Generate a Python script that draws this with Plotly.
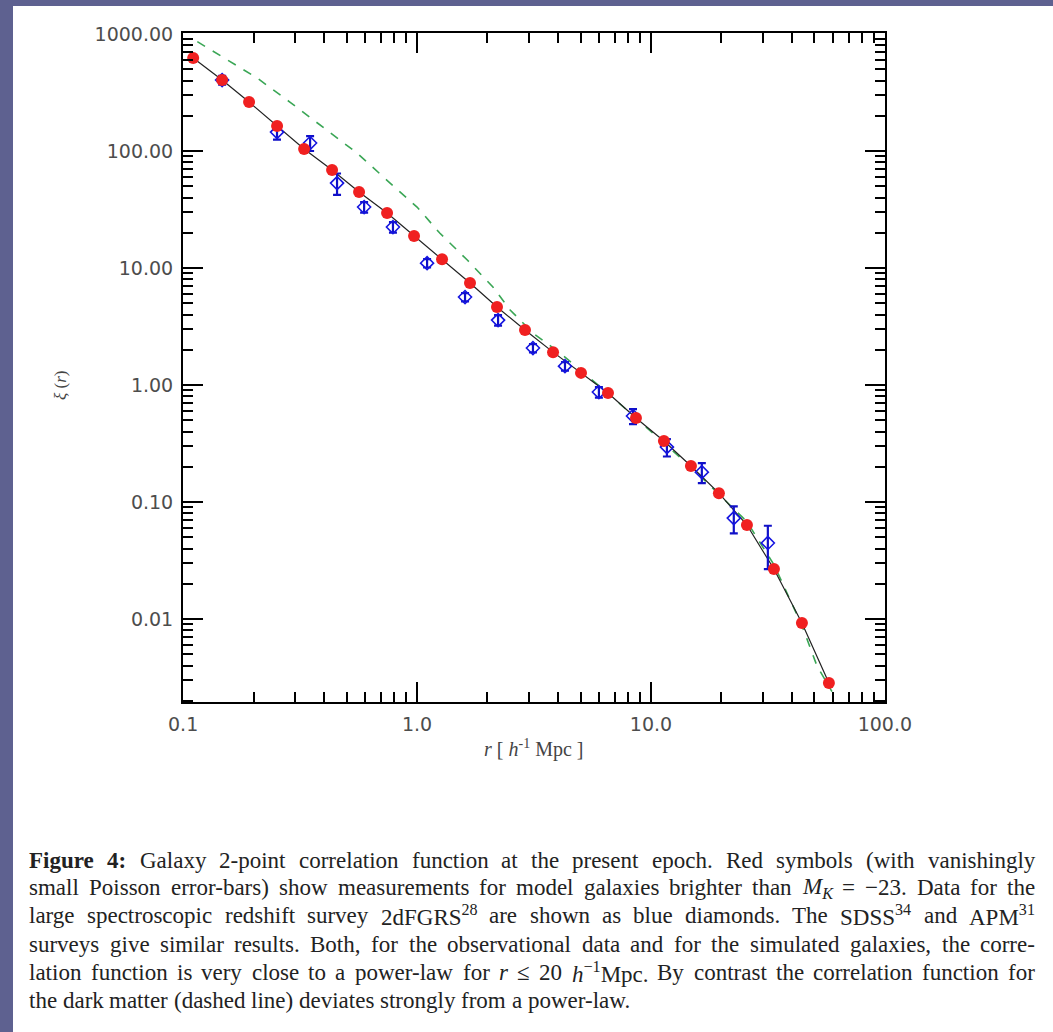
import re
import plotly.graph_objects as go

# ---------------- data ----------------
# Model galaxies (red symbols, solid black line through them)
model_r = [0.1104, 0.1468, 0.1914, 0.2522, 0.3290, 0.4333, 0.5651, 0.7446, 0.9709,
           1.279, 1.684, 2.197, 2.894, 3.814, 5.023, 6.551, 8.628, 11.36, 14.82,
           19.52, 25.72, 33.55, 44.19, 57.64]
model_xi = [623.6, 404.4, 262.3, 163.6, 104.0, 68.8, 44.6, 29.5, 18.8,
            11.9, 7.44, 4.64, 2.95, 1.91, 1.27, 0.854, 0.522, 0.332, 0.203,
            0.119, 0.0636, 0.0268, 0.00924, 0.00284]

# Dark matter (dashed green line)
dm_r = [0.115, 0.147, 0.207, 0.286, 0.396, 0.554, 0.767, 1.0, 1.25, 1.64, 2.11,
        2.50, 3.13, 4.08, 6.55, 8.63, 14.8, 25.7, 33.6, 44.2, 51.2, 59.4]
dm_xi = [860, 636, 421, 262, 160, 96, 53.2, 33.2, 19.9, 11.7, 6.88,
         4.38, 2.78, 1.88, 0.85, 0.52, 0.20, 0.068, 0.029, 0.0088, 0.0040, 0.0024]

# 2dFGRS (blue diamonds with error bars)
obs_r = [0.1468, 0.252, 0.349, 0.455, 0.594, 0.789, 1.104, 1.604, 2.22, 3.13,
         4.29, 5.99, 8.38, 11.7, 16.5, 22.6, 31.6]
obs_xi = [404, 145, 117, 53.2, 33.2, 22.4, 11.0, 5.65, 3.59, 2.07,
          1.45, 0.871, 0.543, 0.295, 0.180, 0.0729, 0.0447]
obs_err = [35, 20, 17, 11, 3.4, 2.3, 0.9, 0.46, 0.37, 0.17,
           0.12, 0.09, 0.08, 0.05, 0.035, 0.019, 0.018]

x_tick_format = ".1f"
y_tick_format = ".2f"

caption_lines = [
    "<b>Figure</b> <b>4:</b> Galaxy 2-point correlation function at the present epoch. Red symbols (with vanishingly",
    "small Poisson error-bars) show measurements for model galaxies brighter than <i>M</i><sub><i>K</i></sub> = −23. Data for the",
    "large spectroscopic redshift survey 2dFGRS<sup>28</sup> are shown as blue diamonds. The SDSS<sup>34</sup> and APM<sup>31</sup>",
    "surveys give similar results. Both, for the observational data and for the simulated galaxies, the corre-",
    "lation function is very close to a power-law for <i>r</i> ≤ 20 <i>h</i><sup>−1</sup>Mpc. By contrast the correlation function for",
    "the dark matter (dashed line) deviates strongly from a power-law.",
]

# ---------------- layout geometry (pixels) ----------------
W, H = 1053, 1032
L, R, T, B = 183, 885, 33, 702


def px(xp):
    return (xp - L) / (R - L)


def py(yp):
    return (B - yp) / (B - T)


# Times / Liberation Serif advance widths (per 1000 em) for caption layout
_REG = {' ': 250, '!': 333, '(': 333, ')': 333, ',': 250, '-': 333, '.': 250, ':': 278,
        '=': 564, '−': 564, '≤': 549,
        'A': 722, 'B': 667, 'C': 667, 'D': 722, 'E': 611, 'F': 556, 'G': 722, 'H': 722,
        'I': 333, 'J': 389, 'K': 722, 'L': 611, 'M': 889, 'N': 722, 'O': 722, 'P': 556,
        'Q': 722, 'R': 667, 'S': 556, 'T': 611, 'U': 722, 'V': 722, 'W': 944, 'X': 722,
        'Y': 722, 'Z': 611,
        'a': 444, 'b': 500, 'c': 444, 'd': 500, 'e': 444, 'f': 333, 'g': 500, 'h': 500,
        'i': 278, 'j': 278, 'k': 500, 'l': 278, 'm': 778, 'n': 500, 'o': 500, 'p': 500,
        'q': 500, 'r': 333, 's': 389, 't': 278, 'u': 500, 'v': 500, 'w': 722, 'x': 500,
        'y': 500, 'z': 444}
for _d in "0123456789":
    _REG[_d] = 500
_BOLD = {'F': 611, 'i': 278, 'g': 500, 'u': 556, 'r': 444, 'e': 444, '4': 500, ':': 333}
_ITAL = {'M': 833, 'K': 667, 'r': 389, 'h': 500}


def text_width(html, size):
    bold = ital = small = False
    w = 0.0
    for tok in re.split(r"(<[^>]+>)", html):
        if tok.startswith("<"):
            tag = tok.strip("<>/")
            on = not tok.startswith("</")
            if tag == "b":
                bold = on
            elif tag == "i":
                ital = on
            elif tag in ("sub", "sup"):
                small = on
            continue
        for ch in tok:
            tbl = _BOLD if bold else (_ITAL if ital else _REG)
            cw = tbl.get(ch, _REG.get(ch, 500))
            w += cw / 1000.0 * size * (0.7 if small else 1.0)
    return w


fig = go.Figure()

fig.add_trace(go.Scatter(
    x=dm_r, y=dm_xi, mode="lines",
    line=dict(color="#3aa655", width=1.6, dash="dash"),
    hoverinfo="skip", showlegend=False))

fig.add_trace(go.Scatter(
    x=model_r, y=model_xi, mode="lines",
    line=dict(color="#222222", width=1.2),
    showlegend=False))

fig.add_trace(go.Scatter(
    x=obs_r, y=obs_xi, mode="markers",
    marker=dict(symbol="diamond-open", size=10, color="#1515e0",
                line=dict(width=1.6, color="#1515e0")),
    error_y=dict(type="data", array=obs_err, visible=True,
                 color="#1010c8", thickness=2.2, width=4),
    showlegend=False))

fig.add_trace(go.Scatter(
    x=model_r, y=model_xi, mode="markers",
    marker=dict(symbol="circle", size=12, color="#f02020",
                line=dict(width=0)),
    showlegend=False))

axis_common = dict(
    type="log", showgrid=False, zeroline=False,
    showline=True, linecolor="black", linewidth=2, mirror="ticks",
    ticks="inside", ticklen=20, tickwidth=2, tickcolor="black",
    dtick=1,
    tickfont=dict(family="DejaVu Sans, Arial, sans-serif", size=19, color="#4d4d4d"),
    minor=dict(ticks="inside", ticklen=10, tickwidth=2, tickcolor="black",
               dtick="D1", showgrid=False),
)

fig.update_xaxes(**axis_common, range=[-1.0005, 2.0005], tickformat=x_tick_format,
                 ticklabelstandoff=4)
fig.update_yaxes(**axis_common, range=[-2.709, 3.0085], tickformat=y_tick_format,
                 ticklabelstandoff=4)

annotations = []
serif = "Liberation Serif, Times New Roman, serif"
# axis titles
annotations.append(dict(
    x=px(533), y=py(748), xref="paper", yref="paper", showarrow=False,
    text="<i>r</i> [ <i>h</i><sup>-1</sup> Mpc ]",
    font=dict(family=serif, size=20, color="#444444"),
    xanchor="center", yanchor="middle"))
annotations.append(dict(
    x=px(60), y=py(385), xref="paper", yref="paper", showarrow=False,
    text="<i>ξ</i> (<i>r</i>)", textangle=-90,
    font=dict(family=serif, size=17, color="#444444"),
    xanchor="center", yanchor="middle"))

# caption, justified word by word
cap_size = 23
cap_left, cap_right = 29, 1035
line_y = [860, 888, 916, 944, 972, 1000]
for li, (t, yy) in enumerate(zip(caption_lines, line_y)):
    words = t.split(" ")
    widths = [text_width(w_, cap_size) for w_ in words]
    if li < len(caption_lines) - 1:
        gap = (cap_right - cap_left - sum(widths)) / (len(words) - 1)
    else:
        gap = 0.25 * cap_size
    xpos = cap_left
    for w_, wd in zip(words, widths):
        annotations.append(dict(
            x=px(xpos), y=py(yy), xref="paper", yref="paper", showarrow=False,
            text=w_, align="left", borderpad=0, borderwidth=0,
            font=dict(family=serif, size=cap_size, color="#222222"),
            xanchor="left", yanchor="middle"))
        xpos += wd + gap

fig.update_layout(
    width=W, height=H,
    margin=dict(l=L, r=W - R, t=T, b=H - B, pad=0),
    paper_bgcolor="#5e6190",
    plot_bgcolor="white",
    annotations=annotations,
    shapes=[dict(type="rect", xref="paper", yref="paper",
                 x0=px(13), x1=px(W + 5), y0=py(H + 5), y1=py(6),
                 fillcolor="white", line=dict(width=0), layer="below")],
    showlegend=False,
)

fig.write_html("out.html", config={"displayModeBar": False},
               post_script="document.body.style.margin='0px';")
